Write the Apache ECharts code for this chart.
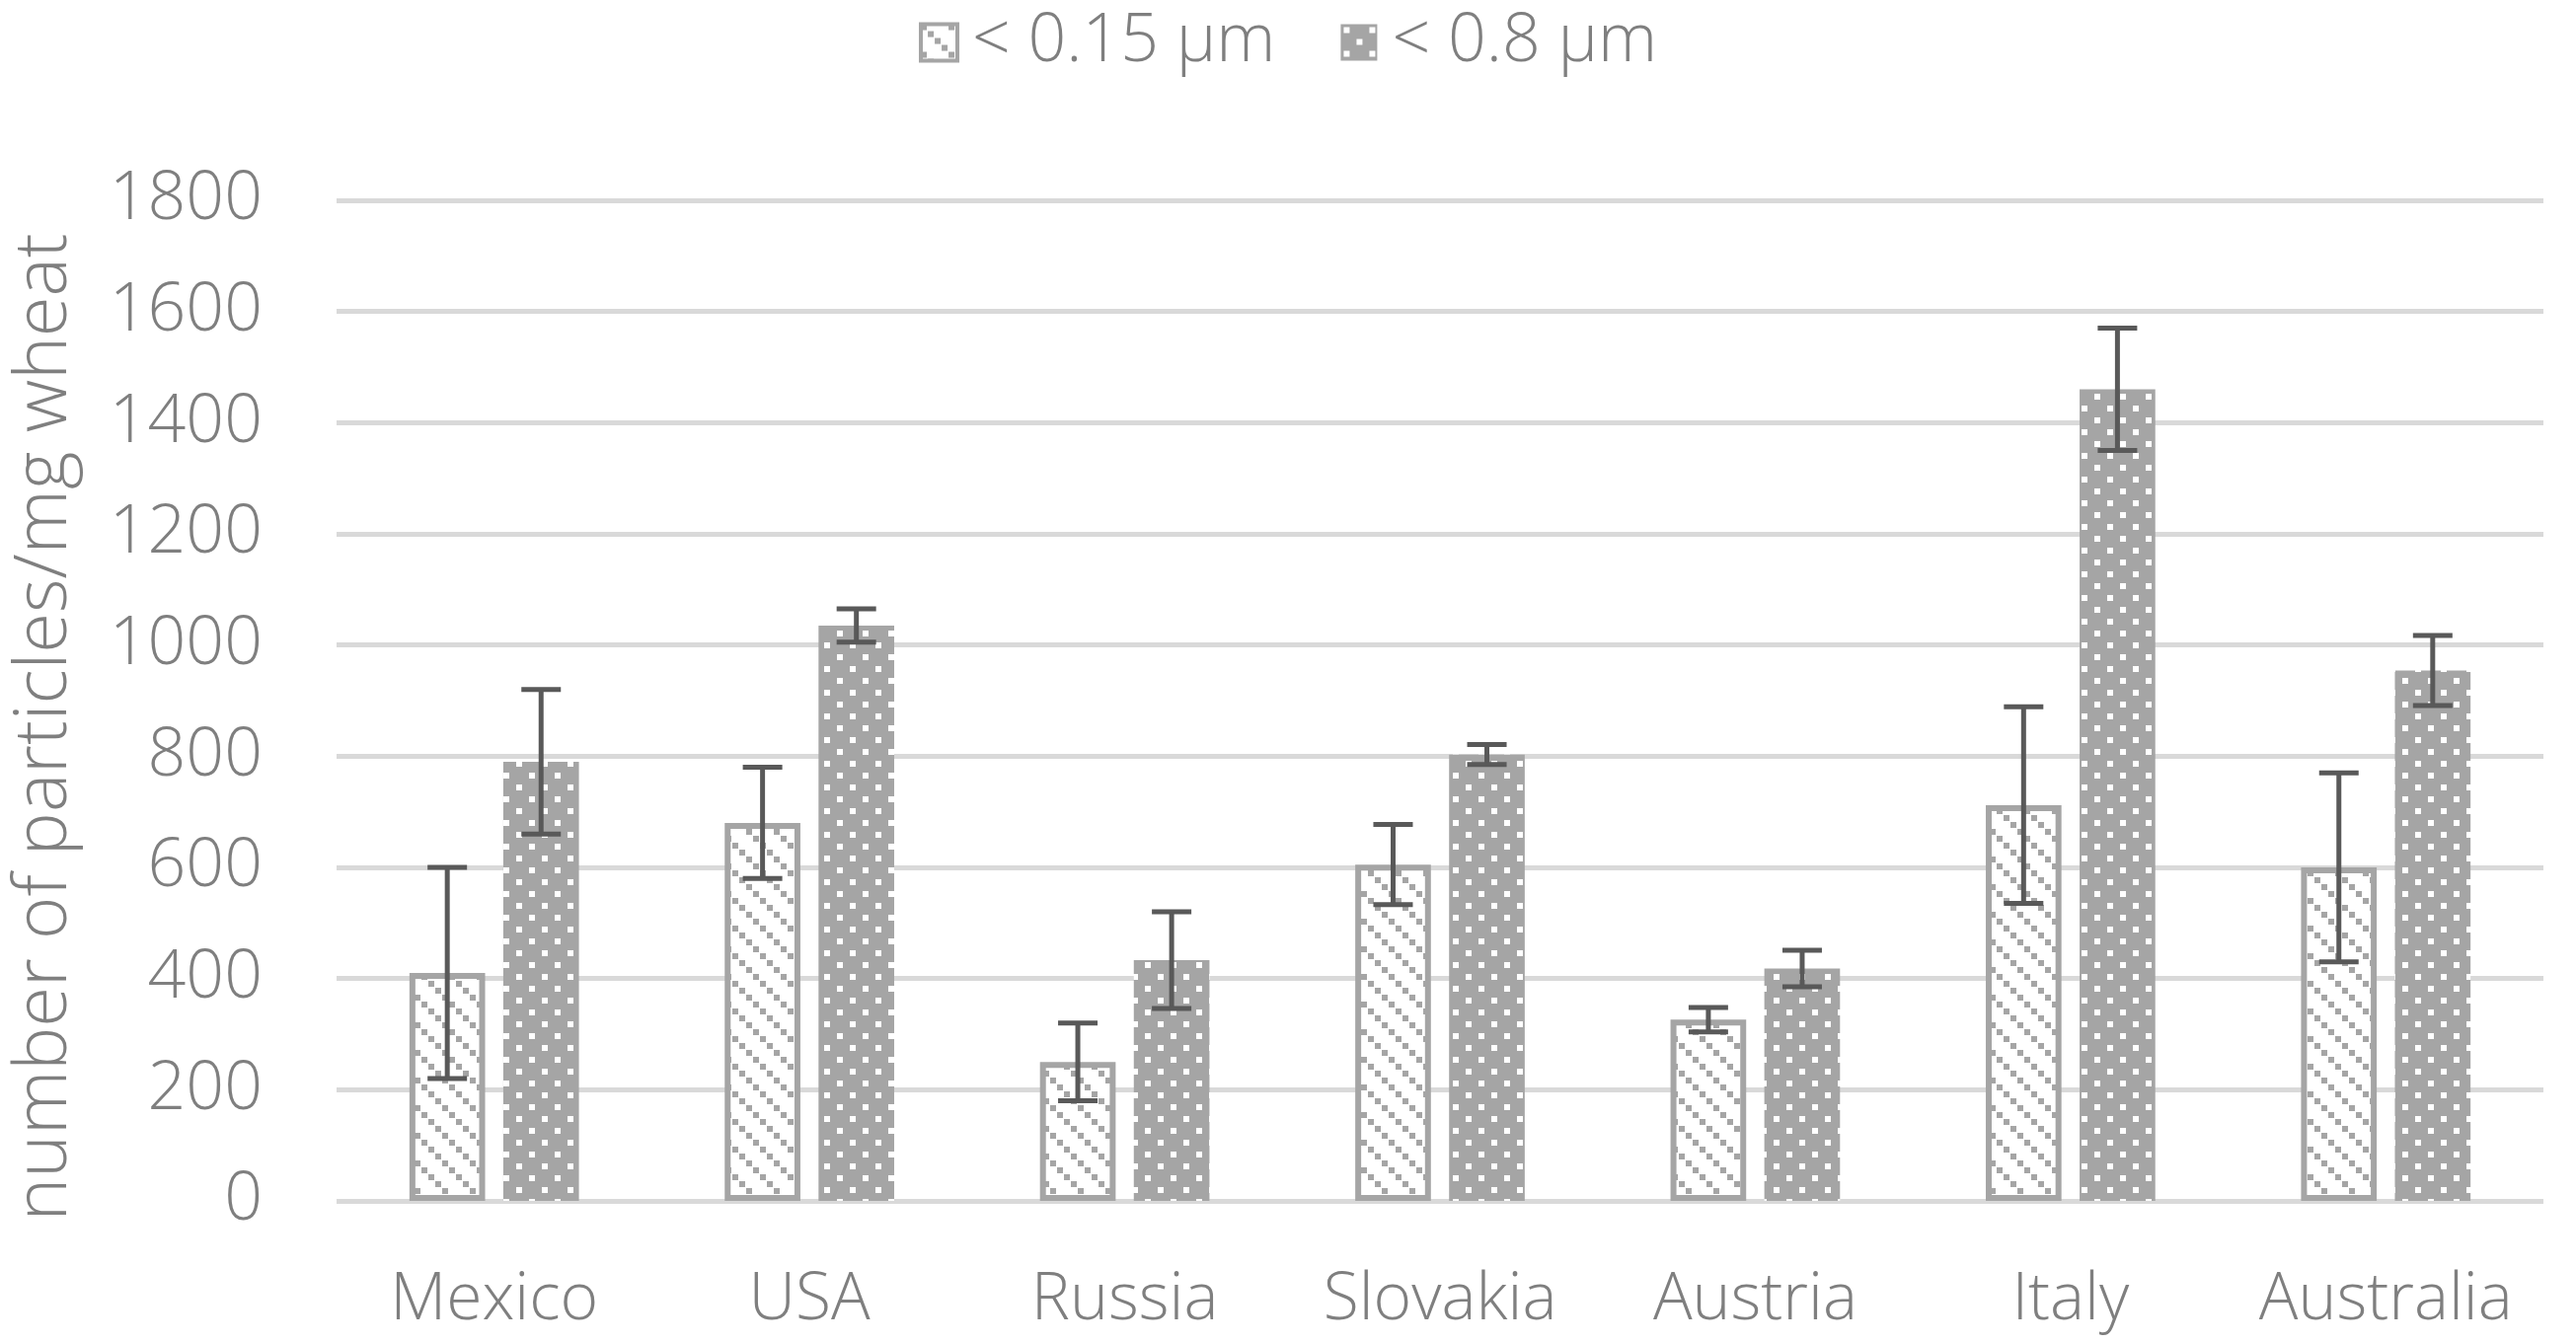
<!DOCTYPE html>
<html lang="en">
<head>
<meta charset="utf-8">
<title>Particles per mg wheat</title>
<script src="https://cdn.jsdelivr.net/npm/echarts@6/dist/echarts.min.js"></script>
<style>
html, body { margin: 0; padding: 0; background: #fff; }
#chart { width: 2610px; height: 1361px; }
</style>
</head>
<body>
<div id="chart"></div>
<script>
var countries = ['Mexico', 'USA', 'Russia', 'Slovakia', 'Austria', 'Italy', 'Australia'];
var small = [410, 680, 250, 605, 326, 712, 600];      // < 0.15 µm
var smallErr = [190, 100, 70, 72, 22, 177, 170];
var large = [790, 1035, 433, 803, 418, 1460, 954];     // < 0.8 µm
var largeErr = [130, 30, 87, 18, 33, 110, 63];
var yTicks = { min: 0, max: 1800, interval: 200 };

var GRAY = '#A5A5A5';
var FONT = "'Open Sans'";

// pattern tiles like the Excel fills
function hatchTile() {
  var c = document.createElement('canvas');
  c.width = 28; c.height = 28;
  var ctx = c.getContext('2d');
  ctx.fillStyle = '#fff';
  ctx.fillRect(0, 0, 28, 28);
  ctx.fillStyle = GRAY;
  for (var k = 0; k < 4; k++) ctx.fillRect(k * 7, k * 7, 6, 6);
  return { image: c, repeat: 'repeat' };
}
function dotTile() {
  var c = document.createElement('canvas');
  c.width = 26; c.height = 24;
  var ctx = c.getContext('2d');
  ctx.fillStyle = GRAY;
  ctx.fillRect(0, 0, 26, 24);
  ctx.fillStyle = '#fff';
  ctx.fillRect(3, 3, 6, 6);
  ctx.fillRect(16, 15, 6, 6);
  return { image: c, repeat: 'repeat' };
}
var hatch = hatchTile();
var dots = dotTile();

var BAR_W = 0.24, BAR_GAP = 0.24;
var OFFSET = BAR_W / 2 + BAR_W * BAR_GAP / 2;

function errData(vals, errs) {
  return vals.map(function (v, i) { return [i, v - errs[i], v + errs[i]]; });
}
function errRender(side) {
  return function (params, api) {
    var cat = api.value(0);
    var lo = api.coord([cat, api.value(1)]);
    var hi = api.coord([cat, api.value(2)]);
    var band = api.size([1, 0])[0];
    var x = lo[0] + side * band * OFFSET;
    var half = 20;
    var style = { stroke: '#595959', lineWidth: 5 };
    return {
      type: 'group',
      children: [
        { type: 'line', shape: { x1: x, y1: hi[1], x2: x, y2: lo[1] }, style: style },
        { type: 'line', shape: { x1: x - half, y1: hi[1], x2: x + half, y2: hi[1] }, style: style },
        { type: 'line', shape: { x1: x - half, y1: lo[1], x2: x + half, y2: lo[1] }, style: style }
      ]
    };
  };
}

var chart = echarts.init(document.getElementById('chart'));
chart.setOption({
  animation: false,
  textStyle: { fontFamily: FONT },
  legend: {
    top: 4,
    left: 'center',
    itemWidth: 37,
    itemHeight: 37,
    itemGap: 66,
    textStyle: { fontSize: 68, fontWeight: 300, color: '#7F7F7F', fontFamily: FONT, padding: [0, 0, 0, 10] },
    data: [
      { name: '< 0.15 µm', icon: 'rect', itemStyle: { color: hatch, borderColor: GRAY, borderWidth: 4 } },
      { name: '< 0.8 µm', icon: 'rect', itemStyle: { color: dots, borderWidth: 0 } }
    ]
  },
  grid: { left: 341, right: 33, top: 203, bottom: 144 },
  xAxis: {
    type: 'category',
    data: countries,
    axisLine: { show: false },
    axisTick: { show: false },
    axisLabel: { interval: 0, fontSize: 66, fontWeight: 300, color: '#7F7F7F', margin: 68, fontFamily: FONT }
  },
  yAxis: {
    type: 'value',
    min: yTicks.min,
    max: yTicks.max,
    interval: yTicks.interval,
    name: 'number of particles/mg wheat',
    nameLocation: 'middle',
    nameGap: 258,
    nameTextStyle: { fontSize: 74, fontWeight: 300, color: '#7F7F7F', fontFamily: FONT, padding: [0, 54, 0, 0] },
    axisLabel: {
      fontSize: 68, fontWeight: 300, color: '#7F7F7F', margin: 75, fontFamily: FONT,
      formatter: function (v) { return String(v); }
    },
    splitLine: { lineStyle: { color: '#D9D9D9', width: 5 } }
  },
  series: [
    {
      name: '< 0.15 µm',
      type: 'bar',
      data: small,
      barWidth: (BAR_W * 100) + '%',
      barGap: (BAR_GAP * 100) + '%',
      itemStyle: { color: hatch, borderColor: GRAY, borderWidth: 6 }
    },
    {
      name: '< 0.8 µm',
      type: 'bar',
      data: large,
      barWidth: (BAR_W * 100) + '%',
      itemStyle: { color: dots }
    },
    {
      type: 'custom',
      name: 'err-small',
      data: errData(small, smallErr),
      encode: { x: 0, y: [1, 2] },
      renderItem: errRender(-1),
      z: 5
    },
    {
      type: 'custom',
      name: 'err-large',
      data: errData(large, largeErr),
      encode: { x: 0, y: [1, 2] },
      renderItem: errRender(1),
      z: 5
    }
  ]
});
</script>
</body>
</html>
